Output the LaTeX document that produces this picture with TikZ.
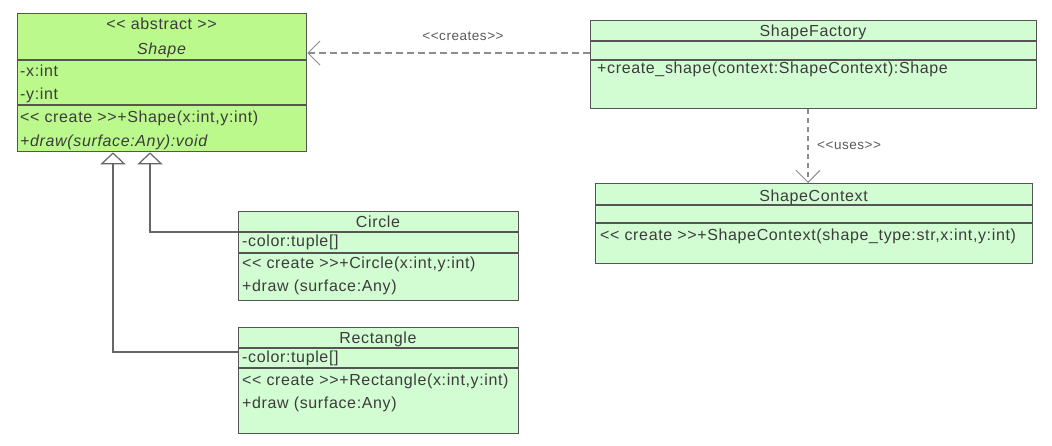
\documentclass[tikz,border=0pt]{standalone}
\usepackage{fontspec}
\setmainfont{Liberation Sans}[LetterSpace=4, Ligatures=TeXOff]
\usetikzlibrary{arrows.meta}

\definecolor{abstractfill}{HTML}{BCF98C}
\definecolor{classfill}{HTML}{D2FCD2}
\definecolor{edge}{HTML}{555555}
\definecolor{ink}{HTML}{3C3C3C}
\definecolor{link}{HTML}{8C8C8C}
\definecolor{genline}{HTML}{666666}

\begin{document}
\begin{tikzpicture}[x=1pt,y=-1pt,
  classbox/.style={draw=edge, line width=1.3pt, anchor=north west, inner sep=0pt, rectangle},
  divider/.style={draw=edge, line width=1.2pt},
  member/.style={anchor=base west, inner sep=0pt, text=ink, font=\fontsize{16}{19}\selectfont},
  title/.style={anchor=base, inner sep=0pt, text=ink, font=\fontsize{16}{19}\selectfont},
  generalization/.style={draw=genline, line width=1.2pt,
    -{Triangle[open, length=12pt, width=25pt, fill=white]}},
  dependency/.style={draw=link, line width=1.4pt, dash pattern=on 7pt off 4pt,
    -{Straight Barb[length=12pt, width=24pt, line width=1pt]}},
  stereo/.style={inner sep=0pt, text=ink!85, font=\fontsize{13.5}{16}\selectfont}]

\useasboundingbox (0,0) rectangle (1052,446);

% ---- abstract class Shape ----
\node[classbox, fill=abstractfill, minimum width=289pt, minimum height=138pt] (shape) at (17,13) {};
\draw[divider] (17,60) -- (306,60);
\draw[divider] (17,105) -- (306,105);
\node[title] (shapest) at (161.5,30) {<< abstract >>};
\node[title] (shapename) at (161.5,55) {\itshape Shape};
\node[member] (shapex) at (20,77) {-x:int};
\node[member] (shapey) at (20,100) {-y:int};
\node[member] (shapector) at (20,123) {<< create >>+Shape(x:int,y:int)};
\node[member] (shapedraw) at (20,147) {\itshape +draw(surface:Any):void};

% ---- ShapeFactory ----
\node[classbox, fill=classfill, minimum width=446pt, minimum height=88pt] (factory) at (590,20) {};
\draw[divider] (590,41) -- (1036,41);
\draw[divider] (590,60) -- (1036,60);
\node[title] (factoryname) at (813,37) {ShapeFactory};
\node[member] (factorycreate) at (597,74) {+create\_shape(context:ShapeContext):Shape};

% ---- ShapeContext ----
\node[classbox, fill=classfill, minimum width=437pt, minimum height=80pt] (context) at (595,183) {};
\draw[divider] (595,205) -- (1032,205);
\draw[divider] (595,223) -- (1032,223);
\node[title] (contextname) at (813.5,202) {ShapeContext};
\node[member] (contextctor) at (600,241) {<< create >>+ShapeContext(shape\_type:str,x:int,y:int)};

% ---- Circle ----
\node[classbox, fill=classfill, minimum width=280pt, minimum height=89pt] (circle) at (238,211) {};
\draw[divider] (238,232) -- (518,232);
\draw[divider] (238,253) -- (518,253);
\node[title] (circlename) at (378,228) {Circle};
\node[member] (circlecolor) at (242,247) {-color:tuple[]};
\node[member] (circlector) at (242,269) {<< create >>+Circle(x:int,y:int)};
\node[member] (circledraw) at (242,292) {+draw (surface:Any)};

% ---- Rectangle ----
\node[classbox, fill=classfill, minimum width=280pt, minimum height=106pt] (rect) at (238,327) {};
\draw[divider] (238,348) -- (518,348);
\draw[divider] (238,368) -- (518,368);
\node[title] (rectname) at (378,343) {Rectangle};
\node[member] (rectcolor) at (242,362) {-color:tuple[]};
\node[member] (rectctor) at (242,385) {<< create >>+Rectangle(x:int,y:int)};
\node[member] (rectdraw) at (242,408) {+draw (surface:Any)};

% ---- inheritance ----
\draw[generalization] ([yshift=-21pt]circle.north west) -| ([xshift=133pt]shape.south west);
\draw[generalization] ([yshift=-25pt]rect.north west) -| ([xshift=96pt]shape.south west);

% ---- dependencies ----
\draw[dependency] ([yshift=-33pt]factory.north west) -- ([yshift=-33pt]factory.north west -| shape.east);
\node[stereo, anchor=base] (createslabel) at (463,41) {<<creates>>};
\draw[dependency, line width=1.1pt, dash pattern=on 5pt off 4pt]
  ([xshift=218pt]factory.south west) -- ([xshift=218pt]factory.south west |- context.north);
\node[stereo, anchor=base west] (useslabel) at (817,150) {<<uses>>};
\end{tikzpicture}
\end{document}
